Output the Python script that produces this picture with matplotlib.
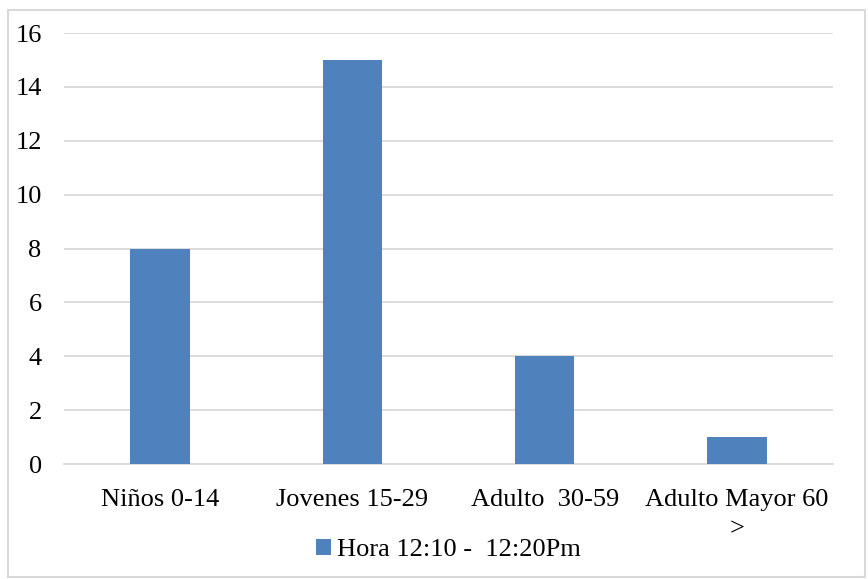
import matplotlib
matplotlib.use("Agg")
import matplotlib.pyplot as plt
from matplotlib.patches import Rectangle

# data
categories = ["Niños 0-14", "Jovenes 15-29", "Adulto  30-59", "Adulto Mayor 60\n>"]
values = [8, 15, 4, 1]
series_name = "Hora 12:10 -  12:20Pm"

plt.rcParams["font.family"] = ["Liberation Serif", "DejaVu Serif"]
fs = 19

fig = plt.figure(figsize=(8.68, 5.79), dpi=100)
ax = fig.add_axes([0.0737, 0.1986, 0.886, 0.7444])

x = range(len(categories))
ax.bar(x, values, width=0.31, color="#4F81BD", label=series_name, zorder=3)

ax.set_xlim(-0.5, len(categories) - 0.5)
ax.set_ylim(0, 16)
ax.set_yticks(range(0, 17, 2))
ax.set_xticks(list(x))
ax.set_xticklabels(categories, fontsize=fs, linespacing=1.45)
ax.tick_params(axis="y", labelsize=fs, length=0, pad=16)
ax.tick_params(axis="x", length=0, pad=18)

ax.grid(axis="y", color="#D9D9D9", linewidth=1.3, zorder=0)
for s in ["top", "right", "left"]:
    ax.spines[s].set_visible(False)
ax.spines["bottom"].set_color("#D9D9D9")
ax.spines["bottom"].set_linewidth(1.3)

leg = fig.legend(loc="center", bbox_to_anchor=(0.517, 0.05), frameon=False,
                 fontsize=fs, handlelength=0.55, handleheight=0.55, handletextpad=0.25)

# outer border
fig.patches.append(Rectangle((0.009, 0.003), 0.988, 0.98, transform=fig.transFigure,
                             fill=False, edgecolor="#D9D9D9", linewidth=1.5))

fig.savefig("out.png", dpi=100)
